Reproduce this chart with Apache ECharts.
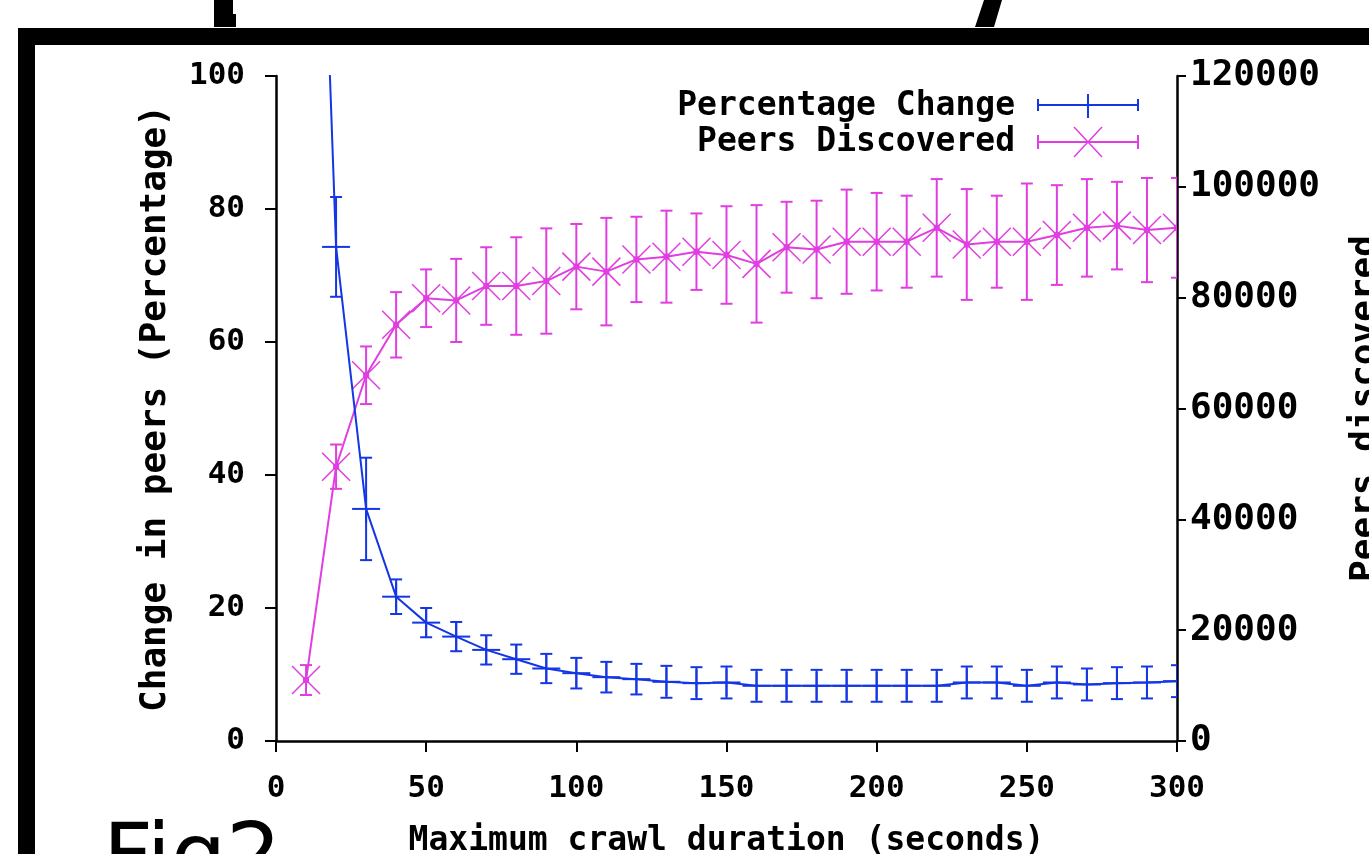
<!DOCTYPE html>
<html><head><meta charset="utf-8">
<script src="https://cdn.jsdelivr.net/npm/echarts@6/dist/echarts.min.js"></script>
<style>html,body{margin:0;padding:0;background:#fff;overflow:hidden}#c{width:1369px;height:854px}</style>
</head><body><div id="c"></div>
<script>
// ---- data ----
const crawlSeconds = [10,20,30,40,50,60,70,80,90,100,110,120,130,140,150,160,170,180,190,200,210,220,230,240,250,260,270,280,290,300];
const pctChange = [200,74.3,34.9,21.7,17.8,15.7,13.7,12.3,10.9,10.2,9.6,9.3,8.9,8.7,8.8,8.3,8.3,8.3,8.3,8.3,8.3,8.3,8.8,8.8,8.3,8.8,8.5,8.7,8.8,9.0];
const pctErr = [30,7.5,7.7,2.6,2.2,2.2,2.2,2.2,2.2,2.3,2.3,2.3,2.4,2.4,2.4,2.4,2.4,2.4,2.4,2.4,2.4,2.4,2.4,2.4,2.4,2.4,2.4,2.4,2.4,2.4];
const peersFound = [11000,49500,66000,75100,79900,79500,82100,82100,83000,85600,84700,86900,87400,88300,87700,86100,89100,88700,90100,90100,90100,92600,89600,90100,90100,91300,92600,93000,92200,92600];
const peersErr = [2700,4000,5200,5900,5200,7500,7000,8800,9500,7700,9700,7700,8300,6900,8800,10600,8200,8800,9400,8800,8300,8800,10000,8300,10500,9000,8800,7900,9400,9000];
const seriesNames = ['Percentage Change','Peers Discovered'];
const axisNames = ['Maximum crawl duration (seconds)','Change in peers (Percentage)','Peers discovered'];

const BLUE = '#1436e4';
const MAG = '#e03ee0';
const MONO = '"DejaVu Sans Mono", "Liberation Mono", monospace';

const blueLine = crawlSeconds.map((x,i)=>[x,pctChange[i]]);
const blueErr = crawlSeconds.map((x,i)=>[x,pctChange[i],pctChange[i]-pctErr[i],pctChange[i]+pctErr[i]]);
const magLine = crawlSeconds.map((x,i)=>[x,peersFound[i]]);
const magErr = crawlSeconds.map((x,i)=>[x,peersFound[i],peersFound[i]-peersErr[i],peersFound[i]+peersErr[i]]);

function errRender(kind, color){
  return function(params, api){
    const x = api.value(0);
    const c = api.coord([x, api.value(1)]);
    const lo = api.coord([x, api.value(2)]);
    const hi = api.coord([x, api.value(3)]);
    const st = {stroke: color, lineWidth: 2};
    const cap = 6, m = 14;
    const ch = [
      {type:'line', shape:{x1:lo[0],y1:lo[1],x2:hi[0],y2:hi[1]}, style:st},
      {type:'line', shape:{x1:lo[0]-cap,y1:lo[1],x2:lo[0]+cap,y2:lo[1]}, style:st},
      {type:'line', shape:{x1:hi[0]-cap,y1:hi[1],x2:hi[0]+cap,y2:hi[1]}, style:st}
    ];
    if(kind==='plus'){
      ch.push({type:'line', shape:{x1:c[0]-m,y1:c[1],x2:c[0]+m,y2:c[1]}, style:st});
      ch.push({type:'line', shape:{x1:c[0],y1:c[1]-m,x2:c[0],y2:c[1]+m}, style:st});
    } else {
      const s2 = {stroke: color, lineWidth: 1.5};
      ch.push({type:'line', shape:{x1:c[0]-m,y1:c[1]-m,x2:c[0]+m,y2:c[1]+m}, style:s2});
      ch.push({type:'line', shape:{x1:c[0]-m,y1:c[1]+m,x2:c[0]+m,y2:c[1]-m}, style:s2});
      ch.push({type:'rect', shape:{x:c[0]-3,y:c[1]-3,width:6,height:6}, style:{fill:color}});
    }
    return {type:'group', children: ch};
  };
}

const chart = echarts.init(document.getElementById('c'), null, {renderer:'canvas'});
const axisLineStyle = {color:'#000', width:2.5};
chart.setOption({
  backgroundColor:'#fff',
  animation:false,
  grid:{left:276, right:192, top:76, bottom:113, containLabel:false, outerBoundsMode:'none'},
  xAxis:{type:'value', min:0, max:300, interval:50,
    axisLine:{show:true, onZero:false, lineStyle:axisLineStyle},
    axisTick:{show:true, inside:false, length:11, lineStyle:{color:'#000', width:2}},
    splitLine:{show:false},
    axisLabel:{color:'#000', fontSize:31, fontWeight:'bold', fontFamily:MONO, margin:32},
    name:axisNames[0], nameLocation:'middle', nameGap:84,
    nameTextStyle:{color:'#000', fontSize:33, fontWeight:'bold', fontFamily:MONO}},
  yAxis:[
    {type:'value', position:'left', min:0, max:100, interval:20,
      axisLine:{show:true, lineStyle:axisLineStyle},
      axisTick:{show:true, inside:false, length:11, lineStyle:{color:'#000', width:2}},
      splitLine:{show:false},
      axisLabel:{color:'#000', fontSize:31, fontWeight:'bold', fontFamily:MONO, margin:31},
      name:axisNames[1], nameLocation:'middle', nameRotate:90, nameGap:102,
      nameTextStyle:{color:'#000', fontSize:36, fontWeight:'bold', fontFamily:MONO}},
    {type:'value', position:'right', min:0, max:120000, interval:20000,
      axisLine:{show:true, lineStyle:axisLineStyle},
      axisTick:{show:true, inside:false, length:9, lineStyle:{color:'#000', width:2}},
      splitLine:{show:false},
      axisLabel:{color:'#000', fontSize:36, fontWeight:'bold', fontFamily:MONO, margin:13, formatter:(v)=>String(v)},
      name:axisNames[2], nameLocation:'middle', nameRotate:90, nameGap:171,
      nameTextStyle:{color:'#000', fontSize:36, fontWeight:'bold', fontFamily:MONO}}
  ],
  series:[
    {name:seriesNames[1], type:'line', yAxisIndex:1, data:magLine, symbol:'none', clip:true,
      lineStyle:{color:MAG, width:2}, z:2},
    {name:seriesNames[1]+' err', type:'custom', yAxisIndex:1, data:magErr, clip:true,
      renderItem:errRender('x', MAG), z:3},
    {name:seriesNames[0], type:'line', yAxisIndex:0, data:blueLine, symbol:'none', clip:true,
      lineStyle:{color:BLUE, width:2}, z:4},
    {name:seriesNames[0]+' err', type:'custom', yAxisIndex:0, data:blueErr, clip:true,
      renderItem:errRender('plus', BLUE), z:5}
  ],
  graphic:[
    // surrounding frame of the source slide
    {type:'rect', shape:{x:18, y:28, width:1351, height:17}, style:{fill:'#000'}, silent:true},
    {type:'rect', shape:{x:18, y:28, width:17, height:826}, style:{fill:'#000'}, silent:true},
    {type:'polygon', shape:{points:[[214,0],[233,0],[233,14],[236,14],[236,27],[214,27]]}, style:{fill:'#000'}, silent:true},
    {type:'polygon', shape:{points:[[984,0],[1002,0],[994,27],[975,27]]}, style:{fill:'#000'}, silent:true},
    {type:'text', style:{text:'Fig2', x:103, y:862, font:'87px "DejaVu Sans"', fill:'#000', verticalAlign:'middle', align:'left'}, silent:true},
    // legend
    {type:'text', style:{text:seriesNames[0], x:1015, y:106, font:'bold 33px '+MONO, fill:'#000', align:'right', verticalAlign:'middle'}},
    {type:'text', style:{text:seriesNames[1], x:1015, y:142, font:'bold 33px '+MONO, fill:'#000', align:'right', verticalAlign:'middle'}},
    {type:'group', children:[
      {type:'line', shape:{x1:1038,y1:105,x2:1138,y2:105}, style:{stroke:BLUE,lineWidth:2}},
      {type:'line', shape:{x1:1038,y1:99,x2:1038,y2:111}, style:{stroke:BLUE,lineWidth:2}},
      {type:'line', shape:{x1:1138,y1:99,x2:1138,y2:111}, style:{stroke:BLUE,lineWidth:2}},
      {type:'line', shape:{x1:1088,y1:94,x2:1088,y2:118}, style:{stroke:BLUE,lineWidth:2}},
      {type:'line', shape:{x1:1038,y1:142,x2:1138,y2:142}, style:{stroke:MAG,lineWidth:2}},
      {type:'line', shape:{x1:1038,y1:135,x2:1038,y2:149}, style:{stroke:MAG,lineWidth:2}},
      {type:'line', shape:{x1:1138,y1:135,x2:1138,y2:149}, style:{stroke:MAG,lineWidth:2}},
      {type:'line', shape:{x1:1074,y1:127,x2:1102,y2:157}, style:{stroke:MAG,lineWidth:1.5}},
      {type:'line', shape:{x1:1074,y1:157,x2:1102,y2:127}, style:{stroke:MAG,lineWidth:1.5}}
    ]}
  ]
});
</script></body></html>
